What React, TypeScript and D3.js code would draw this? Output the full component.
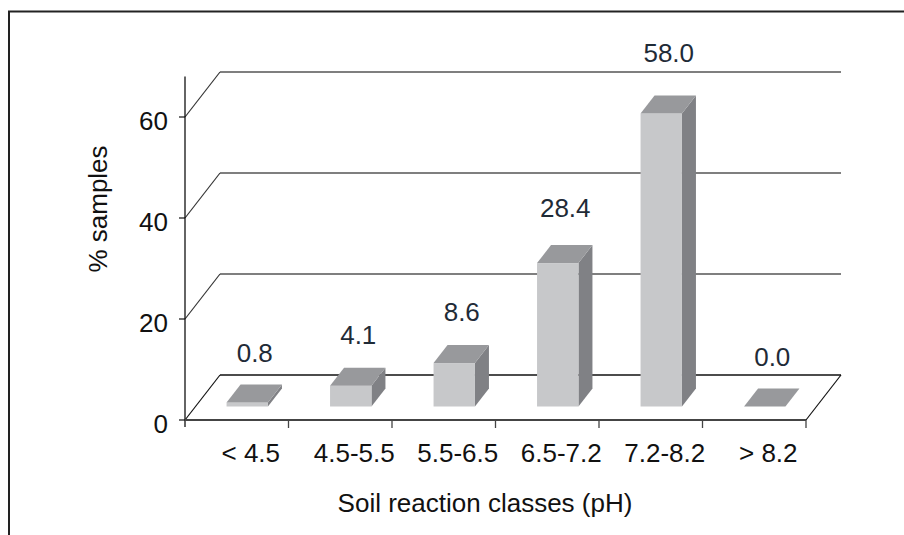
import React from "react";
import * as d3 from "d3";

const categories = ["< 4.5", "4.5-5.5", "5.5-6.5", "6.5-7.2", "7.2-8.2", "> 8.2"];
const values = [0.8, 4.1, 8.6, 28.4, 58.0, 0.0];
const valueLabels = ["0.8", "4.1", "8.6", "28.4", "58.0", "0.0"];
const yTicks = [0, 20, 40, 60];
const xTitle = "Soil reaction classes (pH)";
const yTitle = "% samples";

const W = 904;
const H = 535;
const FONT = "'Liberation Sans', Arial, sans-serif";
const FS = 26;
const DX = 35;
const DY = 45;

export default function App() {
  const x = d3.scaleBand<string>().domain(categories).range([185, 806]).padding(0);
  const y = d3.scaleLinear().domain([0, 60]).range([420, 117]);
  const labelY = d3.scaleLinear().domain([0, 60]).range([366, 51]);
  const bw = x.bandwidth();
  const barW = bw * 0.4;
  const fFront = 0.3;
  const fDepth = 0.4;
  const x0p = 185, x1p = 806;
  const y0 = y(0);
  const axisTop = y(68);

  const pts = (a: [number, number][]) => a.map((p) => p.join(",")).join(" ");

  return (
    <svg
      width={W}
      height={H}
      style={{ position: "absolute", left: 0, top: 0, background: "#fff" }}
      fontFamily={FONT}
    >
      {/* frame */}
      <line x1={9} y1={535} x2={9} y2={11} stroke="#222" strokeWidth={2} />
      <line x1={8} y1={11.5} x2={904} y2={11.5} stroke="#222" strokeWidth={2} />

      {/* gridlines on walls */}
      {yTicks.filter((t) => t > 0).map((t) => (
        <g key={"g" + t}>
          <line x1={x0p} y1={y(t)} x2={x0p + DX} y2={y(t) - DY} stroke="#333" strokeWidth={1.2} />
          <line x1={x0p + DX} y1={y(t) - DY} x2={x1p + DX} y2={y(t) - DY} stroke="#555" strokeWidth={1.4} />
        </g>
      ))}
      {/* floor */}
      <line x1={x0p} y1={y0} x2={x0p + DX} y2={y0 - DY} stroke="#111" strokeWidth={1.2} />
      <line x1={x0p + DX} y1={y0 - DY} x2={x1p + DX} y2={y0 - DY} stroke="#111" strokeWidth={1.3} />
      <line x1={x1p} y1={y0} x2={x1p + DX} y2={y0 - DY} stroke="#111" strokeWidth={1.2} />

      {/* bars */}
      {categories.map((c, i) => {
        const v = values[i];
        const xa = (x(c) as number) + (bw - barW) / 2 + DX * fFront;
        const xb = xa + barW;
        const yb = y0 - DY * fFront;
        const yt = y(v) - DY * fFront;
        const ddx = DX * fDepth;
        const ddy = DY * fDepth;
        return (
          <g key={c}>
            {v > 0 && (
              <polygon
                points={pts([[xb, yt], [xb + ddx, yt - ddy], [xb + ddx, yb - ddy], [xb, yb]])}
                fill="#808185"
              />
            )}
            {v > 0 && <rect x={xa} y={yt} width={barW} height={yb - yt} fill="#c7c8ca" />}
            <polygon
              points={pts([[xa, yt], [xa + ddx, yt - ddy], [xb + ddx, yt - ddy], [xb, yt]])}
              fill="#98999c"
            />
          </g>
        );
      })}

      {/* value labels */}
      {categories.map((c, i) => (
        <text
          key={"v" + c}
          x={(x(c) as number) + bw / 2 + 18}
          y={labelY(values[i])}
          textAnchor="middle"
          fontSize={FS}
          fill="#1f2b37"
        >
          {valueLabels[i]}
        </text>
      ))}

      {/* y axis */}
      <line x1={x0p} y1={axisTop} x2={x0p} y2={y0 + 7} stroke="#111" strokeWidth={1.3} />
      {yTicks.map((t) => (
        <g key={"t" + t}>
          <line x1={x0p - 6} y1={y(t)} x2={x0p} y2={y(t)} stroke="#111" strokeWidth={1.2} />
          <text x={168} y={y(t) + 13} textAnchor="end" fontSize={FS} fill="#111">
            {t}
          </text>
        </g>
      ))}

      {/* x axis */}
      <line x1={x0p} y1={y0} x2={x1p} y2={y0} stroke="#444" strokeWidth={2} />
      {categories.map((c) => (
        <line
          key={"xt" + c}
          x1={(x(c) as number) + bw}
          y1={y0}
          x2={(x(c) as number) + bw}
          y2={y0 + 8}
          stroke="#444"
          strokeWidth={1.3}
        />
      ))}
      {categories.map((c) => (
        <text
          key={"xl" + c}
          x={(x(c) as number) + bw / 2 + 14}
          y={462}
          textAnchor="middle"
          fontSize={FS}
          fill="#111"
        >
          {c}
        </text>
      ))}

      {/* titles */}
      <text x={485} y={512} textAnchor="middle" fontSize={FS} fill="#111">
        {xTitle}
      </text>
      <text
        transform="translate(107,209) rotate(-90)"
        textAnchor="middle"
        fontSize={FS}
        fill="#111"
      >
        {yTitle}
      </text>
    </svg>
  );
}
